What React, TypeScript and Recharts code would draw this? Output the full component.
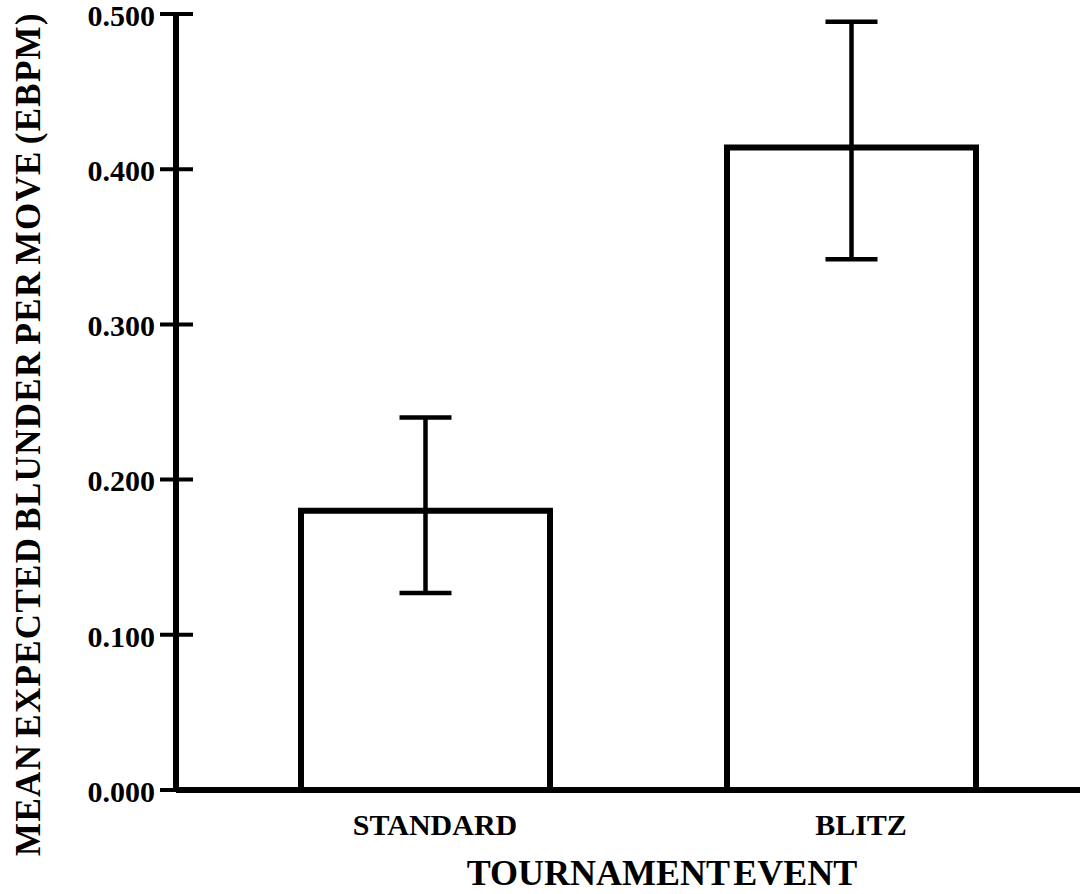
import React from 'react';
import { BarChart, Bar, XAxis, YAxis, ErrorBar } from 'recharts';

// values
const categories = ['STANDARD', 'BLITZ'];
const means = [0.18, 0.414];
const errLow = [0.053, 0.072];
const errHigh = [0.06, 0.081];
const yTicks = [0, 0.1, 0.2, 0.3, 0.4, 0.5];

const FONT = '"Liberation Serif", "Times New Roman", serif';

const data = categories.map((name, i) => ({
  name,
  mean: means[i],
  err: [errLow[i], errHigh[i]],
}));

const YTick = (props: any) => {
  const { x, y, payload } = props;
  return (
    <g>
      <line x1={x - 16} x2={x + 17} y1={y} y2={y} stroke="#000" strokeWidth={4} />
      <text
        x={x - 21}
        y={y + 5}
        textAnchor="end"
        dominantBaseline="middle"
        fontFamily={FONT}
        fontWeight="bold"
        fontSize={30}
        fill="#000"
      >
        {Number(payload.value).toFixed(3)}
      </text>
    </g>
  );
};

const XTick = (props: any) => {
  const { x, y, payload } = props;
  return (
    <text
      x={x + 10}
      y={y + 38}
      textAnchor="middle"
      dominantBaseline="middle"
      fontFamily={FONT}
      fontWeight="bold"
      fontSize={30}
      fill="#000"
    >
      {payload.value}
    </text>
  );
};

const YLabel = (props: any) => {
  const vb = props.viewBox || { x: 0, y: 0, width: 0, height: 0 };
  const cx = vb.x + 32;
  const cy = vb.y + vb.height / 2 + 32;
  return (
    <text
      x={cx}
      y={cy}
      transform={`rotate(-90, ${cx}, ${cy})`}
      textAnchor="middle"
      dominantBaseline="middle"
      fontFamily={FONT}
      fontWeight="bold"
      fontSize={35}
      letterSpacing={1.3}
      wordSpacing={-4}
      fill="#000"
    >
      MEAN EXPECTED BLUNDER PER MOVE (EBPM)
    </text>
  );
};

const XLabel = (props: any) => {
  const vb = props.viewBox || { x: 0, y: 0, width: 0, height: 0 };
  return (
    <text
      x={662}
      y={vb.y + 87}
      textAnchor="middle"
      dominantBaseline="middle"
      fontFamily={FONT}
      fontWeight="bold"
      fontSize={36}
      wordSpacing={-5}
      fill="#000"
    >
      TOURNAMENT EVENT
    </text>
  );
};

export default function App() {
  return (
    <div style={{ position: 'absolute', left: 0, top: 0, background: '#fff' }}>
      <BarChart
        width={1080}
        height={894}
        data={data}
        margin={{ top: 14, right: 0, left: 0, bottom: 0 }}
        barSize={249}
      >
        <XAxis
          dataKey="name"
          height={104}
          padding={{ left: 36, right: 16 }}
          axisLine={{ stroke: '#000', strokeWidth: 6 }}
          tickLine={false}
          tickSize={0}
          tickMargin={0}
          tick={<XTick />}
          label={<XLabel />}
        />
        <YAxis
          width={176}
          domain={[0, 0.5]}
          ticks={yTicks}
          interval={0}
          axisLine={{ stroke: '#000', strokeWidth: 6 }}
          tickLine={false}
          tickSize={0}
          tickMargin={0}
          tick={<YTick />}
          label={<YLabel />}
        />
        <Bar dataKey="mean" fill="#fff" stroke="#000" strokeWidth={6} isAnimationActive={false}>
          <ErrorBar dataKey="err" direction="y" width={26} strokeWidth={4.5} stroke="#000" />
        </Bar>
      </BarChart>
    </div>
  );
}
